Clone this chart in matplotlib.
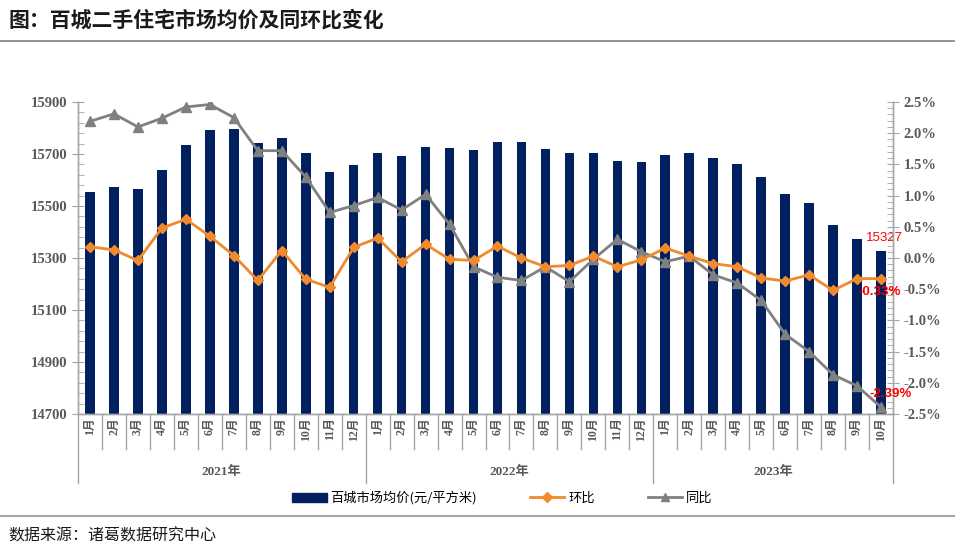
import numpy as np
import matplotlib.pyplot as plt
from matplotlib.lines import Line2D
from matplotlib.patches import Patch
import matplotlib.transforms as mtransforms

plt.rcParams['font.family'] = ['Liberation Serif', 'Noto Sans CJK SC', 'DejaVu Sans']

# data
years = ["2021年", "2022年", "2023年"]
months = [f"{m}月" for m in range(1, 13)] * 2 + [f"{m}月" for m in range(1, 11)]
price = [15553, 15575, 15567, 15640, 15736, 15793, 15798, 15741, 15762, 15705, 15631, 15658,
         15705, 15693, 15727, 15723, 15714, 15745, 15745, 15719, 15702, 15702, 15675, 15671,
         15696, 15702, 15684, 15662, 15610, 15548, 15510, 15427, 15375, 15327]
mom = [0.18, 0.13, -0.04, 0.48, 0.62, 0.35, 0.04, -0.36, 0.12, -0.34, -0.47, 0.17,
       0.32, -0.06, 0.22, -0.02, -0.04, 0.19, 0.00, -0.14, -0.12, 0.03, -0.14, -0.03,
       0.16, 0.03, -0.09, -0.14, -0.32, -0.37, -0.27, -0.52, -0.33, -0.33]
yoy = [2.19, 2.31, 2.10, 2.24, 2.42, 2.46, 2.25, 1.72, 1.72, 1.30, 0.73, 0.84,
       0.97, 0.77, 1.02, 0.54, -0.14, -0.31, -0.36, -0.14, -0.38, -0.02, 0.30, 0.10,
       -0.06, 0.03, -0.27, -0.40, -0.68, -1.22, -1.50, -1.87, -2.05, -2.39]
year_len = [12, 12, 10]

navy = "#002060"
orange = "#F08A2C"
grey = "#808080"
txt = "#595959"

fig = plt.figure(figsize=(9.55, 5.49), dpi=100)
ax = fig.add_axes([78 / 955, 1 - 414 / 549, (893 - 78) / 955, 312 / 549])
ax2 = ax.twinx()

n = len(price)
x = np.arange(n)
ax.bar(x, price, width=0.4, color=navy, zorder=2)
ax.set_xlim(-0.5, n - 0.5)
ax.set_ylim(14700, 15900)
ax.set_yticks(np.arange(14700, 15901, 200))
ax.set_yticks(np.arange(14700, 15901, 40), minor=True)

ax2.plot(x, mom, color=orange, lw=2, marker="D", ms=5.5, zorder=4)
ax2.plot(x, yoy, color=grey, lw=2, marker="^", ms=6.5, zorder=3)
ax2.set_ylim(-2.5, 2.5)
ax2.set_yticks(np.arange(-2.5, 2.51, 0.5))
ax2.set_yticks(np.arange(-2.5, 2.51, 0.1), minor=True)
ax2.set_yticklabels([f"{v:.1f}%" for v in np.arange(-2.5, 2.51, 0.5)])

for a in (ax, ax2):
    a.spines["top"].set_visible(False)
    for s in ("left", "right", "bottom"):
        a.spines[s].set_color("#a6a6a6")
        a.spines[s].set_linewidth(1)
    a.set_xticks([])
ax.tick_params(axis="y", which="major", direction="inout", length=8, color="#a6a6a6",
               labelsize=10.5, labelcolor=txt)
ax.tick_params(axis="y", which="minor", direction="in", length=4, color="#a6a6a6")
ax2.tick_params(axis="y", which="major", direction="inout", length=8, color="#a6a6a6",
                labelsize=10.5, labelcolor=txt)
ax2.tick_params(axis="y", which="minor", direction="in", length=4, color="#a6a6a6")
for lab in ax.get_yticklabels() + ax2.get_yticklabels():
    lab.set_fontweight("bold")

# category axis with month boxes and year groups
trans = mtransforms.blended_transform_factory(ax.transData, ax.transAxes)
for i, m in enumerate(months):
    ax.text(i, -0.01, m, transform=trans, rotation=90, ha="center", va="top",
            fontsize=8.5, color=txt, fontweight="bold")
bounds = [0]
for L in year_len:
    bounds.append(bounds[-1] + L)
for b in range(n + 1):
    y_end = -0.221 if b in bounds else -0.112
    ax.plot([b - 0.5, b - 0.5], [0, y_end], transform=trans, color="#a6a6a6", lw=1,
            clip_on=False)
for k, yname in enumerate(years):
    mid = (bounds[k] + bounds[k + 1]) / 2 - 0.5
    ax.text(mid, -0.186, yname, transform=trans, ha="center", va="center",
            fontsize=9.5, color=txt, fontweight="bold")

# labels for the last month
ax.text(n - 1 + 0.15, price[-1] + 25, f"{price[-1]}", ha="center", va="bottom",
        fontsize=9.5, color="red", family="Liberation Sans", zorder=5)
ax2.text(n - 1 - 0.05, mom[-1] - 0.12, f"{mom[-1]:.2f}%", ha="center", va="top",
         fontsize=9.5, color="red", family="Liberation Sans", fontweight="bold", zorder=5)
ax2.text(n - 1 + 0.4, yoy[-1] + 0.12, f"{yoy[-1]:.2f}%", ha="center", va="bottom",
         fontsize=9.5, color="red", family="Liberation Sans", fontweight="bold", zorder=5)

handles = [Patch(color=navy),
           Line2D([], [], color=orange, lw=2, marker="D", ms=5),
           Line2D([], [], color=grey, lw=2, marker="^", ms=6)]
fig.legend(handles, ["百城市场均价(元/平方米)", "环比", "同比"], loc="center",
           bbox_to_anchor=(0.526, 1 - 498 / 549), ncol=3, frameon=False,
           prop={"family": "Noto Sans CJK SC", "size": 9.5}, columnspacing=4,
           handlelength=2.6, handletextpad=0.3)

fig.text(8 / 955, 1 - 20 / 549, "图：百城二手住宅市场均价及同环比变化", ha="left", va="center",
         fontsize=15, fontweight="bold", family="Noto Sans CJK SC", color="#1a1a1a")
fig.add_artist(Line2D([0, 1], [1 - 41 / 549, 1 - 41 / 549], color="#808080", lw=1.2))
fig.add_artist(Line2D([0, 1], [1 - 516 / 549, 1 - 516 / 549], color="#a6a6a6", lw=1.5))
fig.text(8 / 955, 1 - 536 / 549, "数据来源：诸葛数据研究中心", ha="left", va="center",
         fontsize=11.5, family="Noto Sans CJK SC", color="#1a1a1a")

fig.savefig("out.png", dpi=100)
